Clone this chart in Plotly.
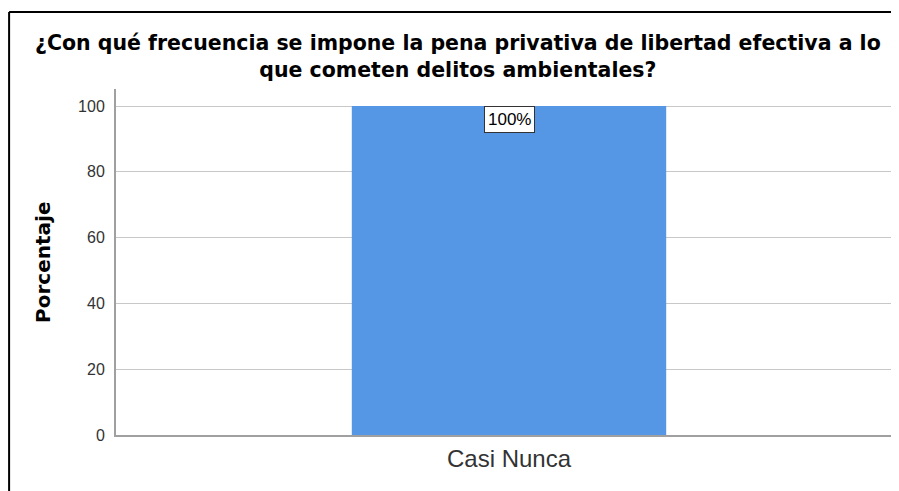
# Data =========================================================================
import plotly.graph_objects as go

categorias = ['Casi Nunca']
porcentajes = [100]
etiquetas = ['100%']
y_ticks = [0, 20, 40, 60, 80, 100]

titulo = ('¿Con qué frecuencia se impone la pena privativa de libertad efectiva a lo<br>'
          'que cometen delitos ambientales?')

# Figure =======================================================================
fig = go.Figure()
fig.add_trace(go.Bar(
    x=categorias, y=porcentajes, width=0.4,
    marker=dict(color='#5596e5', line=dict(width=0)),
    hoverinfo='skip',
))

# value label, boxed, hanging from the top of the bar
for cat, val, lab in zip(categorias, porcentajes, etiquetas):
    fig.add_annotation(
        x=cat, y=val, text=lab, showarrow=False,
        yanchor='top', yshift=0,
        font=dict(family='Liberation Sans, Arial', size=17, color='black'),
        bgcolor='white', bordercolor='#333333', borderwidth=1, borderpad=3,
    )

# title
fig.add_annotation(xref='paper', yref='paper', x=0.435, y=1.094, text=titulo,
                   showarrow=False, xanchor='center', yanchor='middle', align='center',
                   font=dict(family='DejaVu Sans', size=20.5, color='black', weight='bold'))

# axis title
fig.add_annotation(xref='paper', yref='paper', x=-0.093, y=0.5, text='Porcentaje',
                   showarrow=False, textangle=-90, xanchor='center', yanchor='middle',
                   font=dict(family='DejaVu Sans', size=20, color='black', weight='bold'))

# frame around the chart
fig.add_shape(type='line', xref='paper', yref='paper',
              x0=-0.136, x1=1.05, y0=1.2225, y1=1.2225,
              line=dict(color='black', width=2))
fig.add_shape(type='line', xref='paper', yref='paper',
              x0=-0.136, x1=-0.136, y0=1.2225, y1=-0.3,
              line=dict(color='black', width=2))

fig.update_layout(
    width=899, height=491,
    margin=dict(l=108, r=5, t=81, b=64),
    paper_bgcolor='white', plot_bgcolor='white',
    showlegend=False,
    font=dict(family='Liberation Sans, Arial', color='black'),
)
fig.update_xaxes(
    range=[-0.5, 0.5], showgrid=False,
    showline=True, linecolor='#a0a0a0', linewidth=2,
    ticks='outside', ticklen=1, tickcolor='rgba(0,0,0,0)',
    tickfont=dict(size=24, color='#333333'),
)
fig.update_yaxes(
    range=[0, 105.2], tickvals=y_ticks,
    showgrid=True, gridcolor='#c8c8c8', gridwidth=1,
    showline=True, linecolor='#a0a0a0', linewidth=2,
    ticks='outside', ticklen=6, tickcolor='rgba(0,0,0,0)',
    tickfont=dict(size=16, color='#333333'),
    zeroline=False,
)

fig.write_html('out.html')
